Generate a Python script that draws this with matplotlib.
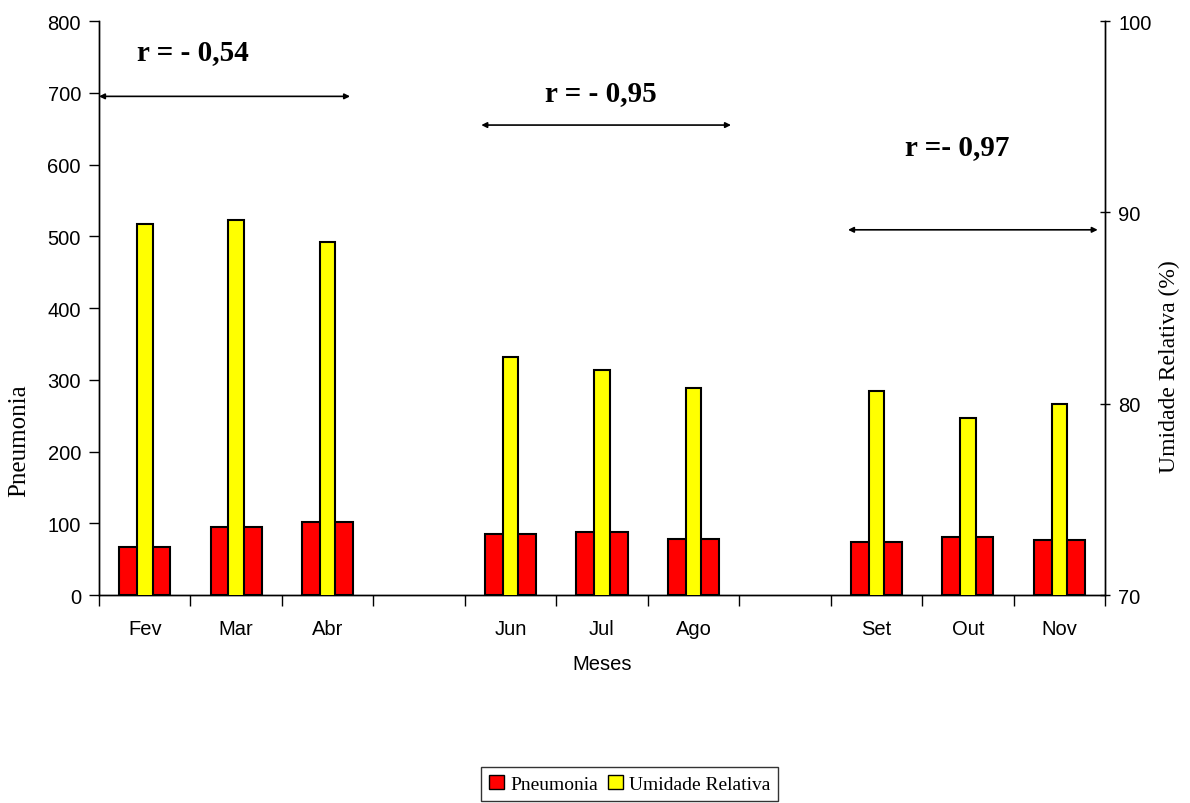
import numpy as np
import matplotlib
matplotlib.use("Agg")
import matplotlib.pyplot as plt
from matplotlib.patches import Patch

meses = ['Fev', 'Mar', 'Abr', '', 'Jun', 'Jul', 'Ago', '', 'Set', 'Out', 'Nov']
pneumonia = [67, 95, 102, np.nan, 85, 88, 78, np.nan, 74, 81, 77]
umidade = [89.4, 89.6, 88.45, np.nan, 82.45, 81.75, 80.8, np.nan, 80.65, 79.25, 80.0]

r_labels = ['r = - 0,54', 'r = - 0,95', 'r =- 0,97']

serif = 'Liberation Serif'
sans = 'Liberation Sans'

fig = plt.figure(figsize=(11.9, 8.04), dpi=100)
ax = fig.add_axes([0.0832, 0.2587, 0.8454, 0.7139])
ax2 = ax.twinx()

x = np.arange(len(meses))
ok = ~np.isnan(pneumonia)
ax.bar(x[ok], np.array(pneumonia)[ok], width=0.56, color='#ff0000',
       edgecolor='black', linewidth=1.5, zorder=2)
ax2.bar(x[ok], np.array(umidade)[ok], width=0.17, color='#ffff00',
        edgecolor='black', linewidth=1.5, zorder=3, bottom=0)

ax.set_xlim(-0.5, len(meses) - 0.5)
ax.set_ylim(0, 800)
ax2.set_ylim(70, 100)
ax2.set_yticks([70, 80, 90, 100])
ax.set_yticks(range(0, 801, 100))

# category labels centred, tick marks between categories
ax.set_xticks(np.arange(-0.5, len(meses)), minor=False)
ax.set_xticklabels([])
ax.set_xticks(x, minor=True)
ax.set_xticklabels(meses, minor=True, fontsize=14.5, fontfamily=sans)
ax.tick_params(axis='x', which='minor', length=0, pad=17)
ax.tick_params(axis='x', which='major', length=8, width=1, direction='out')
ax.tick_params(axis='y', length=7, width=1, direction='out', labelsize=14.5, pad=6)
ax2.tick_params(axis='y', length=7, width=1, direction='inout', labelsize=14.5, pad=6)
for lab in ax.get_yticklabels() + ax2.get_yticklabels():
    lab.set_fontfamily(sans)

for a in (ax, ax2):
    a.spines['top'].set_visible(False)
    for s in ('left', 'right', 'bottom'):
        a.spines[s].set_linewidth(1)

ax.set_ylabel('Pneumonia', fontsize=18, fontfamily=serif)
ax.yaxis.set_label_coords(-0.068, 0.27)
ax2.set_ylabel('Umidade Relativa (%)', fontsize=17, fontfamily=serif, rotation=90)
ax2.yaxis.set_label_coords(1.054, 0.40)
ax.set_xlabel('Meses', fontsize=14.5, fontfamily=sans)
ax.xaxis.set_label_coords(0.5, -0.102)

# correlation annotations
arrows = [(-0.5, 2.245, 695), (3.68, 6.41, 655), (7.69, 10.42, 509)]
texts = [(0.53, 758), (4.99, 700), (8.88, 625)]
for (x0, x1, yy), (tx, ty), lbl in zip(arrows, texts, r_labels):
    ax.annotate('', xy=(x0, yy), xytext=(x1, yy),
                arrowprops=dict(arrowstyle='<|-|>', color='black', lw=1.2,
                                mutation_scale=8, shrinkA=0, shrinkB=0),
                annotation_clip=False, zorder=5)
    ax.text(tx, ty, lbl, ha='center', va='center', fontsize=21,
            fontweight='bold', fontfamily=serif, zorder=5)

handles = [Patch(facecolor='#ff0000', edgecolor='black', label='Pneumonia'),
           Patch(facecolor='#ffff00', edgecolor='black', label='Umidade Relativa')]
leg = fig.legend(handles=handles, loc='center', bbox_to_anchor=(0.529, 0.024),
                 ncol=2, frameon=True, fancybox=False, handlelength=0.8,
                 handleheight=0.8, handletextpad=0.3, columnspacing=0.5,
                 borderpad=0.4, prop={'family': serif, 'size': 14})
leg.get_frame().set_edgecolor('black')
leg.get_frame().set_linewidth(1)

fig.savefig('out.png', dpi=100)
